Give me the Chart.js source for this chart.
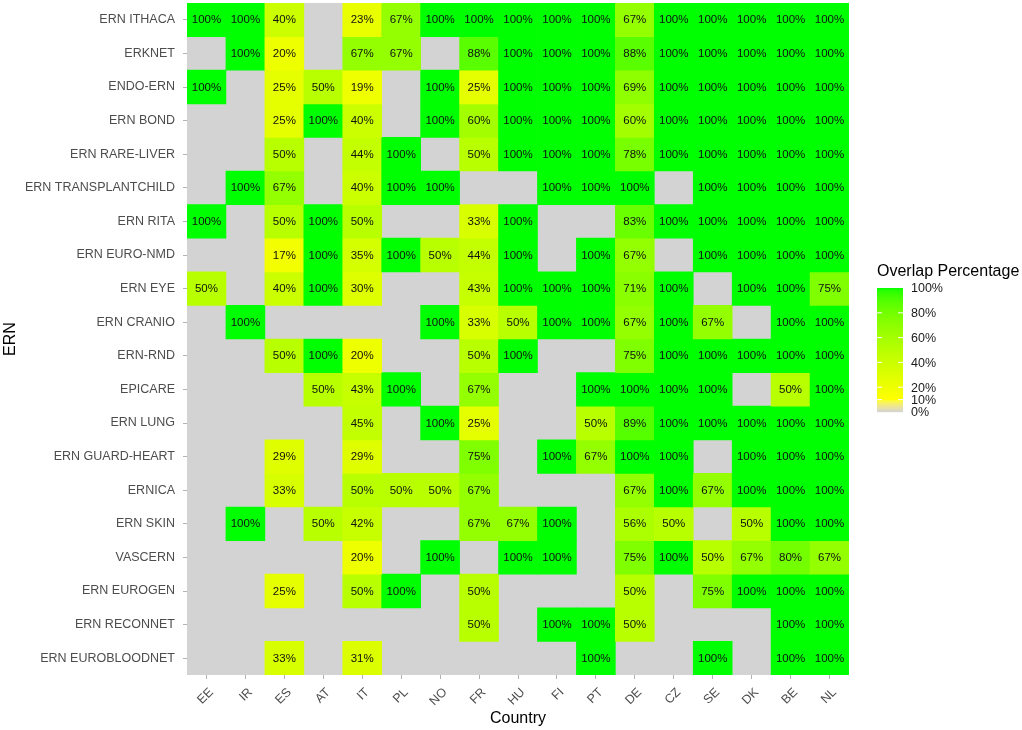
<!DOCTYPE html>
<html>
<head>
<meta charset="utf-8">
<script src="https://cdn.jsdelivr.net/npm/chart.js@4.4.1/dist/chart.umd.min.js"></script>
<style>
  html, body { margin: 0; padding: 0; background: #ffffff; }
  #wrap { width: 1022px; height: 730px; }
</style>
</head>
<body>
<div id="wrap"><canvas id="c" width="1022" height="730"></canvas></div>
<script>
const _ = null;
const COUNTRIES = ['EE','IR','ES','AT','IT','PL','NO','FR','HU','FI','PT','DE','CZ','SE','DK','BE','NL'];
const ERNS = ['ERN ITHACA','ERKNET','ENDO-ERN','ERN BOND','ERN RARE-LIVER','ERN TRANSPLANTCHILD','ERN RITA',
  'ERN EURO-NMD','ERN EYE','ERN CRANIO','ERN-RND','EPICARE','ERN LUNG','ERN GUARD-HEART','ERNICA','ERN SKIN',
  'VASCERN','ERN EUROGEN','ERN RECONNET','ERN EUROBLOODNET'];

const ithaca          = [100,100,40,_,23,67,100,100,100,100,100,67,100,100,100,100,100];
const erknet          = [_,100,20,_,67,67,_,88,100,100,100,88,100,100,100,100,100];
const endoErn         = [100,_,25,50,19,_,100,25,100,100,100,69,100,100,100,100,100];
const bond            = [_,_,25,100,40,_,100,60,100,100,100,60,100,100,100,100,100];
const rareLiver       = [_,_,50,_,44,100,_,50,100,100,100,78,100,100,100,100,100];
const transplantChild = [_,100,67,_,40,100,100,_,_,100,100,100,_,100,100,100,100];
const rita            = [100,_,50,100,50,_,_,33,100,_,_,83,100,100,100,100,100];
const euroNmd         = [_,_,17,100,35,100,50,44,100,_,100,67,_,100,100,100,100];
const eye             = [50,_,40,100,30,_,_,43,100,100,100,71,100,_,100,100,75];
const cranio          = [_,100,_,_,_,_,100,33,50,100,100,67,100,67,_,100,100];
const rnd             = [_,_,50,100,20,_,_,50,100,_,_,75,100,100,100,100,100];
const epicare         = [_,_,_,50,43,100,_,67,_,_,100,100,100,100,_,50,100];
const lung            = [_,_,_,_,45,_,100,25,_,_,50,89,100,100,100,100,100];
const guardHeart      = [_,_,29,_,29,_,_,75,_,100,67,100,100,_,100,100,100];
const ernica          = [_,_,33,_,50,50,50,67,_,_,_,67,100,67,100,100,100];
const skin            = [_,100,_,50,42,_,_,67,67,100,_,56,50,_,50,100,100];
const vascern         = [_,_,_,_,20,_,100,_,100,100,_,75,100,50,67,80,67];
const eurogen         = [_,_,25,_,50,100,_,50,_,_,_,50,_,75,100,100,100];
const reconnet        = [_,_,_,_,_,_,_,50,_,100,100,50,_,_,_,100,100];
const euroBloodnet    = [_,_,33,_,31,_,_,_,_,_,100,_,_,100,_,100,100];

const ROWS = [ithaca, erknet, endoErn, bond, rareLiver, transplantChild, rita, euroNmd, eye, cranio,
  rnd, epicare, lung, guardHeart, ernica, skin, vascern, eurogen, reconnet, euroBloodnet];

const LEGEND_BREAKS = [0, 10, 20, 40, 60, 80, 100];

// ---- colour scale (Lab interpolation like ggplot's gradientn) ----
const STOPS = [[0, '#d3d3d3'], [0.1, '#ffff00'], [1, '#00ff00']];
function hex2rgb(h){ return [parseInt(h.slice(1,3),16), parseInt(h.slice(3,5),16), parseInt(h.slice(5,7),16)]; }
function s2l(c){ c/=255; return c<=0.04045? c/12.92 : Math.pow((c+0.055)/1.055, 2.4); }
function l2s(c){ c = c<=0.0031308? 12.92*c : 1.055*Math.pow(c,1/2.4)-0.055; return Math.max(0,Math.min(255,Math.round(c*255))); }
function rgb2lab(rgb){
  const [r,g,b] = rgb.map(s2l);
  let X = (0.4124*r+0.3576*g+0.1805*b)/0.95047, Y = 0.2126*r+0.7152*g+0.0722*b, Z = (0.0193*r+0.1192*g+0.9505*b)/1.08883;
  const f = t => t>0.008856? Math.cbrt(t) : 7.787*t+16/116;
  const fx=f(X), fy=f(Y), fz=f(Z);
  return [116*fy-16, 500*(fx-fy), 200*(fy-fz)];
}
function lab2rgb(lab){
  const [L,a,b] = lab;
  const fy=(L+16)/116, fx=fy+a/500, fz=fy-b/200;
  const fi = t => t*t*t>0.008856? t*t*t : (t-16/116)/7.787;
  const X=fi(fx)*0.95047, Y=fi(fy), Z=fi(fz)*1.08883;
  const r= 3.2406*X-1.5372*Y-0.4986*Z, g=-0.9689*X+1.8758*Y+0.0415*Z, bb=0.0557*X-0.2040*Y+1.0570*Z;
  return [l2s(r), l2s(g), l2s(bb)];
}
const STOP_LAB = STOPS.map(s => [s[0], rgb2lab(hex2rgb(s[1]))]);
function colourFor(v){
  const t = Math.max(0, Math.min(1, v/100));
  for (let i=0;i<STOP_LAB.length-1;i++){
    const [t0,l0]=STOP_LAB[i], [t1,l1]=STOP_LAB[i+1];
    if (t<=t1){
      const u=(t-t0)/(t1-t0);
      const c = lab2rgb([0,1,2].map(k=>l0[k]+u*(l1[k]-l0[k])));
      return `rgb(${c[0]},${c[1]},${c[2]})`;
    }
  }
  return STOPS[STOPS.length-1][1];
}

const NR = ERNS.length;
const datasets = ROWS.map((row, i) => ({
  label: ERNS[i],
  data: row.map(v => v == null ? null : [NR-1-i, NR-i]),
  values: row,
  backgroundColor: row.map(v => v == null ? 'rgba(0,0,0,0)' : colourFor(v)),
  borderWidth: 0,
  barPercentage: 1,
  categoryPercentage: 1,
  grouped: false
}));

const FONT = "'Liberation Sans', Arial, Helvetica, sans-serif";

const bgPlugin = {
  id: 'panelBg',
  beforeDatasetsDraw(chart){
    const {ctx, chartArea:a} = chart;
    ctx.save(); ctx.fillStyle = '#d3d3d3';
    ctx.fillRect(a.left, a.top, a.right-a.left, a.bottom-a.top);
    ctx.restore();
  }
};

const labelPlugin = {
  id: 'cellLabels',
  afterDatasetsDraw(chart){
    const ctx = chart.ctx;
    ctx.save();
    ctx.font = `11.5px ${FONT}`;
    ctx.fillStyle = '#111111';
    ctx.textAlign = 'center'; ctx.textBaseline = 'middle';
    chart.data.datasets.forEach((ds, i) => {
      const meta = chart.getDatasetMeta(i);
      meta.data.forEach((el, j) => {
        const v = ds.values[j];
        if (v == null) return;
        ctx.fillText(v + '%', el.x, (el.y + el.base)/2 + 0.5);
      });
    });
    ctx.restore();
  }
};

const colorbarPlugin = {
  id: 'colorbar',
  afterDraw(chart){
    const ctx = chart.ctx;
    const x0 = 877, w = 26, yTop = 288, yBot = 412;
    ctx.save();
    ctx.font = `16px ${FONT}`;
    ctx.fillStyle = '#000';
    ctx.textAlign = 'left'; ctx.textBaseline = 'middle';
    ctx.fillText('Overlap Percentage', 877, 272);
    const h = yBot - yTop;
    for (let p = 0; p < h; p++){
      const v = (1 - (p + 0.5)/h) * 100;
      ctx.fillStyle = colourFor(v);
      ctx.fillRect(x0, yTop + p, w, 1.2);
    }
    ctx.strokeStyle = '#ffffff'; ctx.lineWidth = 1;
    ctx.font = `12.5px ${FONT}`;
    ctx.fillStyle = '#1a1a1a';
    LEGEND_BREAKS.forEach(b => {
      const y = yBot - b/100*h;
      if (b > 0 && b < 100){
        ctx.beginPath();
        ctx.moveTo(x0, y); ctx.lineTo(x0+5, y);
        ctx.moveTo(x0+w-5, y); ctx.lineTo(x0+w, y);
        ctx.stroke();
      }
      ctx.fillText(b + '%', 911, y + 1);
    });
    ctx.restore();
  }
};

new Chart(document.getElementById('c'), {
  type: 'bar',
  data: { labels: COUNTRIES, datasets },
  plugins: [bgPlugin, labelPlugin, colorbarPlugin],
  options: {
    responsive: false,
    animation: false,
    devicePixelRatio: 1,
    layout: { padding: { left: 0, right: 173, top: 3, bottom: 0 } },
    plugins: { legend: { display: false }, tooltip: { enabled: false } },
    scales: {
      x: {
        type: 'category',
        offset: true,
        grid: { display: true, drawOnChartArea: false, offset: false, tickLength: 4, color: '#b3b3b3' },
        border: { display: false },
        ticks: { minRotation: 45, maxRotation: 45, autoSkip: false, color: '#4d4d4d', font: { family: FONT, size: 12.5 }, padding: 6, labelOffset: 5 },
        title: { display: true, text: 'Country', color: '#000', font: { family: FONT, size: 16 }, padding: { top: 2, bottom: 2 } },
        afterFit(scale){ scale.height = 55; scale.paddingLeft = 0; scale.paddingRight = 0; }
      },
      y: {
        type: 'linear',
        min: 0, max: NR,
        grid: { display: true, drawOnChartArea: false, tickLength: 4, color: '#b3b3b3' },
        border: { display: false },
        afterBuildTicks(scale){ scale.ticks = ERNS.map((_, i) => ({ value: NR - 0.5 - i })); },
        ticks: {
          color: '#4d4d4d', font: { family: FONT, size: 12.5 }, padding: 8,
          callback: (value) => ERNS[Math.round(NR - 0.5 - value)]
        },
        title: { display: true, text: 'ERN', color: '#000', font: { family: FONT, size: 16 }, padding: { top: 1, bottom: 1 } },
        afterFit(scale){ scale.width = 187; scale.paddingTop = 0; scale.paddingBottom = 0; }
      }
    }
  }
});
</script>
</body>
</html>
